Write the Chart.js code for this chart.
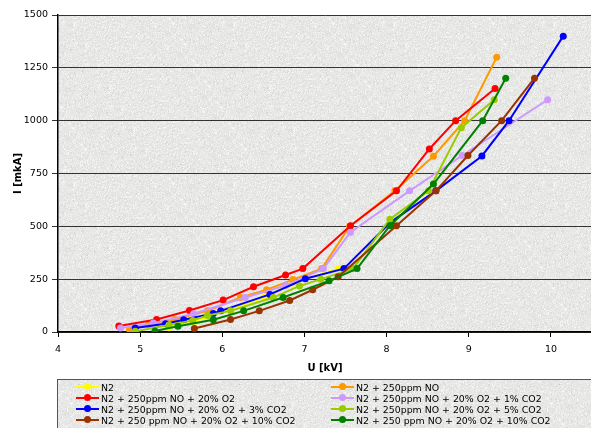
<!DOCTYPE html>
<html>
<head>
<meta charset="utf-8">
<script src="https://cdn.jsdelivr.net/npm/chart.js"></script>
<style>
  html, body { margin: 0; padding: 0; background: #fff; overflow: hidden; }
  #wrap { position: relative; width: 591px; height: 428px; overflow: hidden; }
  #legend {
    position: absolute; left: 57px; top: 379px; width: 560px; height: 60px;
    border: 1px solid #555; box-sizing: border-box;
    font-family: "DejaVu Sans", sans-serif; font-size: 9.4px; color: #000;
  }
  .item { position: absolute; height: 11px; line-height: 11px; white-space: nowrap; }
  .mark { position: absolute; left: 0; top: 4px; width: 23px; height: 2px; }
  .mark i { position: absolute; left: 8px; top: -3px; width: 7px; height: 7px; border-radius: 50%; }
  .item span { position: absolute; left: 25px; top: 0; }
</style>
</head>
<body>
<div id="wrap">
  <canvas id="chart" width="596" height="428"></canvas>
  <div id="legend"></div>
</div>
<script>
// series names and colours
const names = [
  'N2',
  'N2 + 250ppm NO',
  'N2 + 250ppm NO + 20% O2',
  'N2 + 250ppm NO + 20% O2 + 1% CO2',
  'N2 + 250ppm NO + 20% O2 + 3% CO2',
  'N2 + 250ppm NO + 20% O2 + 5% CO2',
  'N2 + 250 ppm NO + 20% O2 + 10% CO2',
  'N2 + 250 ppm NO + 20% O2 + 10% CO2'
];
const colors = ['#ffff00', '#ff9900', '#ff0000', '#cc99ff', '#0000ff', '#99cc00', '#993300', '#008000'];

// U [kV] / I [mkA]
const uN2 = [5.35, 5.66, 6.50, 6.85, 7.41];
const iN2 = [20, 50, 163, 231, 300];
const uNO = [4.87, 5.10, 5.42, 5.82, 6.22, 6.54, 6.86, 7.21, 7.55, 8.10, 8.57, 8.95, 9.34];
const iNO = [12, 34, 59, 100, 163, 200, 248, 300, 500, 668, 832, 1000, 1300];
const uO2 = [4.74, 5.20, 5.60, 6.01, 6.38, 6.77, 6.98, 7.56, 8.12, 8.52, 8.84, 9.32];
const iO2 = [28, 59, 102, 151, 214, 270, 300, 503, 668, 866, 1000, 1152];
const uCO2a = [4.76, 5.16, 5.65, 6.28, 6.77, 7.23, 7.56, 8.28, 8.92, 9.96];
const iCO2a = [19, 42, 86, 163, 220, 300, 472, 668, 835, 1099];
const uCO2b = [4.94, 5.31, 5.53, 5.89, 5.98, 6.58, 7.01, 7.48, 8.05, 8.60, 9.16, 9.49, 10.15];
const iCO2b = [19, 39, 58, 88, 100, 178, 252, 300, 520, 668, 833, 1000, 1400];
const uCO2c = [4.94, 5.35, 5.64, 5.82, 6.10, 6.62, 6.94, 7.20, 7.59, 8.04, 8.51, 8.91, 9.31];
const iCO2c = [3, 33, 55, 78, 100, 163, 218, 250, 300, 534, 668, 967, 1099];
const uCO2d = [5.66, 6.10, 6.45, 6.82, 7.10, 7.41, 8.12, 8.60, 8.99, 9.40, 9.80];
const iCO2d = [17, 59, 100, 149, 200, 261, 503, 668, 835, 1000, 1201];
const uCO2e = [5.18, 5.46, 5.89, 6.26, 6.74, 7.30, 7.64, 8.04, 8.57, 9.17, 9.45];
const iCO2e = [5, 27, 58, 100, 163, 242, 300, 503, 700, 1000, 1201];

const uSets = [uN2, uNO, uO2, uCO2a, uCO2b, uCO2c, uCO2d, uCO2e];
const iSets = [iN2, iNO, iO2, iCO2a, iCO2b, iCO2c, iCO2d, iCO2e];

// granite-like background texture
function makeTexture() {
  const c = document.createElement('canvas');
  c.width = 160; c.height = 160;
  const g = c.getContext('2d');
  const img = g.createImageData(160, 160);
  let seed = 12345;
  const rnd = () => { seed = (seed * 1103515245 + 12345) & 0x7fffffff; return seed / 0x7fffffff; };
  for (let p = 0; p < 160 * 160; p++) {
    let v = 238 - rnd() * 14;
    if (rnd() < 0.1) v -= 18 * rnd();
    if (rnd() < 0.08) v = 247;
    img.data[p * 4] = v; img.data[p * 4 + 1] = v; img.data[p * 4 + 2] = v - 2; img.data[p * 4 + 3] = 255;
  }
  g.putImageData(img, 0, 0);
  return c;
}
const tex = makeTexture();

const bgPlugin = {
  id: 'bg',
  beforeDraw(chart) {
    const a = chart.chartArea, ctx = chart.ctx;
    ctx.save();
    ctx.fillStyle = ctx.createPattern(tex, 'repeat');
    ctx.fillRect(a.left, a.top, a.right - a.left, a.bottom - a.top);
    ctx.restore();
  }
};

const datasets = names.map((n, k) => ({
  label: n,
  data: uSets[k].map((u, j) => ({ x: u, y: iSets[k][j] })),
  showLine: true,
  borderColor: colors[k],
  backgroundColor: colors[k],
  borderWidth: 2,
  pointRadius: 3.5,
  pointBorderWidth: 0,
  order: names.length - k
}));

new Chart(document.getElementById('chart'), {
  type: 'scatter',
  data: { datasets },
  plugins: [bgPlugin],
  options: {
    responsive: false,
    animation: false,
    layout: { padding: { top: 15, right: 0, left: 0, bottom: 50 } },
    plugins: { legend: { display: false }, tooltip: { enabled: false } },
    scales: {
      x: {
        min: 4, max: 10.5,
        afterFit: s => { s.height = 46; },
        ticks: { stepSize: 1, includeBounds: false, color: '#000', padding: 7,
                 font: { family: 'DejaVu Sans', size: 9.5 } },
        grid: { drawOnChartArea: false, color: '#000', tickLength: 5 },
        border: { color: '#000', width: 1.5 },
        title: { display: true, text: 'U [kV]', color: '#000', padding: { top: 0 },
                 font: { family: 'DejaVu Sans', size: 10, weight: 'bold' } }
      },
      y: {
        min: 0, max: 1500,
        afterFit: s => { s.width = 58; },
        ticks: { stepSize: 250, color: '#000', padding: 4,
                 callback: v => String(v),
                 font: { family: 'DejaVu Sans', size: 9.5 } },
        grid: { color: '#333', lineWidth: 1, tickLength: 6 },
        border: { color: '#000', width: 1.5 },
        title: { display: true, text: 'I [mkA]', color: '#000', padding: { top: 12, bottom: 0 },
                 font: { family: 'DejaVu Sans', size: 10, weight: 'bold' } }
      }
    }
  }
});

// legend as html, two columns, row-major
const legend = document.getElementById('legend');
legend.style.backgroundImage = 'url(' + tex.toDataURL() + ')';
names.forEach((n, k) => {
  const d = document.createElement('div');
  d.className = 'item';
  d.style.left = (k % 2 === 0 ? 18 : 273) + 'px';
  d.style.top = (2 + Math.floor(k / 2) * 11) + 'px';
  d.innerHTML = '<div class="mark" style="background:' + colors[k] + '"><i style="background:' +
    colors[k] + '"></i></div><span></span>';
  d.querySelector('span').textContent = n;
  legend.appendChild(d);
});
</script>
</body>
</html>
